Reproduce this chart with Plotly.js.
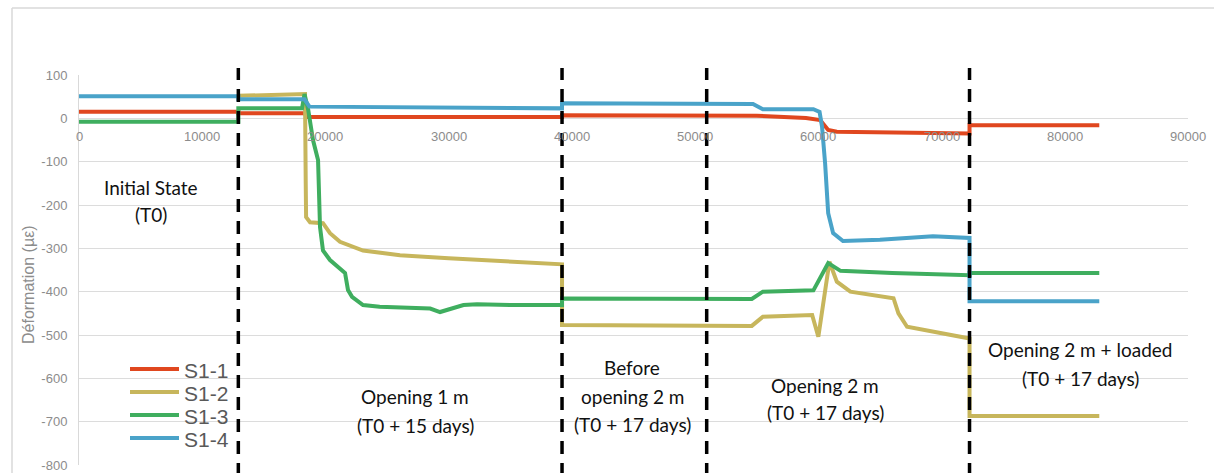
<!DOCTYPE html>
<html>
<head>
<meta charset="utf-8">
<script src="https://cdn.plot.ly/plotly-3.0.1.min.js"></script>
<style>
  html, body { margin: 0; padding: 0; background: #ffffff; }
  #chart { width: 1214px; height: 473px; }
</style>
</head>
<body>
<div id="chart"></div>
<script>
// Strain gauge readings (µε) against time step, four gauges
const seriesNames = ["S1-1", "S1-2", "S1-3", "S1-4"];
const seriesColors = ["#e0471f", "#c7b65c", "#3fae5f", "#4aa3c9"];

const s11X = [0, 12930, 12930, 18300, 18500, 39200, 39200, 55000, 59000, 60150, 60800, 61500, 72270, 72270, 82800];
const s11Y = [15, 15, 12, 12, 3, 3, 7, 6, 1, -4, -27, -31, -35, -16, -16];

const s12X = [12930, 18340, 18400, 18430, 18750, 19800, 20370, 21180, 23050, 26050, 30000, 35000, 39200, 39200, 54600, 55500, 59500, 60000, 60900, 61500, 62600, 66100, 66500, 67200, 69300, 72270, 72270, 82800];
const s12Y = [52, 56, -150, -228, -240, -242, -265, -285, -305, -316, -323, -331, -337, -477, -479, -458, -454, -504, -331, -377, -400, -415, -450, -481, -493, -508, -687, -687];

const s13X = [0, 12930, 12930, 18100, 18300, 18600, 18990, 19400, 19560, 19800, 20370, 21180, 21590, 21830, 22160, 23050, 24400, 28500, 29300, 31200, 32300, 35000, 39200, 39200, 54600, 55500, 59600, 60800, 61800, 66000, 72270, 72270, 82800];
const s13Y = [-8, -8, 23, 23, 56, 20, -50, -96, -251, -305, -327, -346, -357, -396, -412, -431, -435, -439, -447, -431, -429, -431, -431, -416, -417, -400, -397, -334, -352, -357, -362, -357, -357];

const s14X = [0, 12930, 12930, 18300, 18700, 25000, 39200, 39200, 54700, 55500, 59600, 60100, 60300, 60550, 60800, 61200, 62000, 65000, 69300, 72270, 72270, 82800];
const s14Y = [51, 51, 44, 44, 27, 26, 23, 35, 33, 21, 21, 15, -19, -104, -219, -265, -283, -280, -272, -276, -422, -422];

const seriesX = [s11X, s12X, s13X, s14X];
const seriesY = [s11Y, s12Y, s13Y, s14Y];

// Phase boundaries (time steps) and phase captions
const phaseBoundaries = [12930, 39200, 50940, 72270];
const phaseLines = [
  { x: 5844,  y: -159, text: "Initial State" },
  { x: 5844,  y: -223, text: "(T0)" },
  { x: 27270, y: -643, text: "Opening 1 m" },
  { x: 27270, y: -708, text: "(T0 + 15 days)" },
  { x: 44890, y: -574, text: "Before" },
  { x: 44890, y: -641, text: "opening 2 m" },
  { x: 44890, y: -706, text: "(T0 + 17 days)" },
  { x: 60550, y: -616, text: "Opening 2 m" },
  { x: 60550, y: -678, text: "(T0 + 17 days)" },
  { x: 81250, y: -533, text: "Opening 2 m + loaded" },
  { x: 81250, y: -600, text: "(T0 + 17 days)" }
];

// Horizontal axis labels sit on the zero line
const xTickValues = [0, 10000, 20000, 30000, 40000, 50000, 60000, 70000, 80000, 90000];
const yTickValues = [100, 0, -100, -200, -300, -400, -500, -600, -700, -800];
const yAxisTitle = "Déformation (µε)";

const axisFont = "Liberation Sans, Arial, sans-serif";

const traces = seriesNames.map((name, i) => ({
  type: "scatter",
  mode: "lines",
  name: name,
  x: seriesX[i],
  y: seriesY[i],
  line: { color: seriesColors[i], width: 4 },
  hoverinfo: "x+y+name"
}));

// Plot area spans 1109 x 390 px; helpers place fixed furniture in paper units
const plotW = 1109, plotH = 390, plotL = 79, plotB = 465;
const px2paperX = px => (px - plotL) / plotW;
const px2paperY = py => (plotB - py) / plotH;

const shapes = [];
// Chart frame (left and top edges)
shapes.push({ type: "line", xref: "paper", yref: "paper", x0: px2paperX(12), x1: px2paperX(12), y0: -0.05, y1: px2paperY(8),
  line: { color: "#d9d9d9", width: 1.5 } });
shapes.push({ type: "line", xref: "paper", yref: "paper", x0: px2paperX(12), x1: 1.05, y0: px2paperY(8), y1: px2paperY(8),
  line: { color: "#d9d9d9", width: 1.5 } });
phaseBoundaries.forEach(b => {
  shapes.push({ type: "line", xref: "x", yref: "paper", x0: b, x1: b, y0: px2paperY(476), y1: px2paperY(68),
    line: { color: "#000000", width: 3.5, dash: "13px,9px" } });
});

const annotations = [];
xTickValues.forEach(v => {
  annotations.push({ x: v, y: 0, xref: "x", yref: "y", text: String(v), showarrow: false,
    xanchor: "center", yanchor: "middle", yshift: -18,
    font: { family: axisFont, size: 13, color: "#8c8c8c" } });
});
phaseLines.forEach(p => {
  annotations.push({ x: p.x, y: p.y, xref: "x", yref: "y", text: p.text, showarrow: false,
    xanchor: "center", yanchor: "middle",
    font: { family: "Lato, Open Sans, sans-serif", size: 19, color: "#111111" } });
});
// Vertical axis title
annotations.push({ x: px2paperX(28), y: px2paperY(285), xref: "paper", yref: "paper", text: yAxisTitle,
  textangle: -90, showarrow: false, xanchor: "center", yanchor: "middle",
  font: { family: axisFont, size: 16, color: "#8c8c8c" } });

// Legend: a coloured key line followed by the series name
seriesNames.forEach((name, i) => {
  const rowY = 369 + i * 23;
  shapes.push({ type: "line", xref: "paper", yref: "paper",
    x0: px2paperX(130), x1: px2paperX(179), y0: px2paperY(rowY), y1: px2paperY(rowY),
    line: { color: seriesColors[i], width: 4 } });
  annotations.push({ x: px2paperX(182), y: px2paperY(rowY + 1), xref: "paper", yref: "paper", text: name,
    showarrow: false, xanchor: "left", yanchor: "middle",
    font: { family: axisFont, size: 21, color: "#595959" } });
});

const layout = {
  width: 1214,
  height: 473,
  margin: { l: plotL, r: 1214 - plotL - plotW, t: plotB - plotH, b: 473 - plotB },
  paper_bgcolor: "#ffffff",
  plot_bgcolor: "#ffffff",
  showlegend: false,
  xaxis: {
    range: [0, 90000],
    showgrid: false,
    zeroline: false,
    showline: false,
    showticklabels: false,
    ticks: ""
  },
  yaxis: {
    range: [-800, 100],
    tickvals: yTickValues,
    ticktext: yTickValues.map(String),
    showgrid: true,
    gridcolor: "#dcdcdc",
    gridwidth: 1,
    zeroline: false,
    showline: true,
    linecolor: "#d9d9d9",
    linewidth: 1,
    ticks: "",
    ticklabelstandoff: 8,
    tickfont: { family: axisFont, size: 13, color: "#8c8c8c" }
  },
  shapes: shapes,
  annotations: annotations
};

Plotly.newPlot("chart", traces, layout, { displayModeBar: false, staticPlot: true });
</script>
</body>
</html>
